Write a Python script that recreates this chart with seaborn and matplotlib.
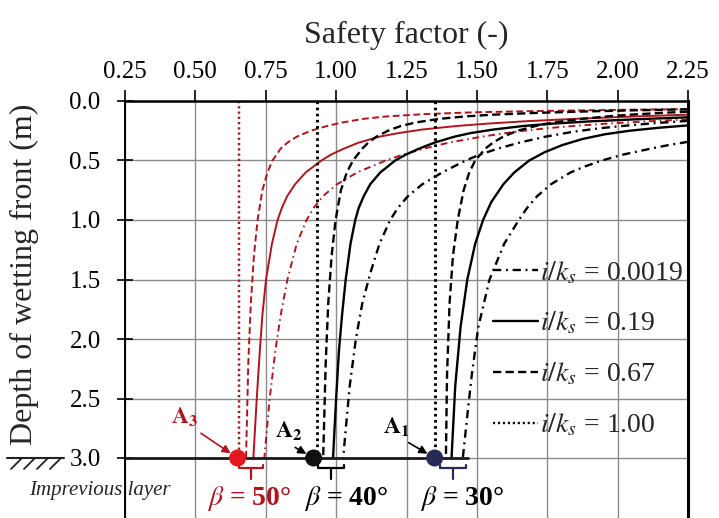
import pandas as pd
import matplotlib
matplotlib.use("Agg")
import matplotlib.pyplot as plt
import seaborn as sns
from matplotlib.lines import Line2D

# ---- data: safety factor vs depth of wetting front ----
slopes = ["50", "40", "30"]
ratios = ["0.0019", "0.19", "0.67", "1.00"]

# beta = 50 deg
d_50_0019 = [0.155, 0.17, 0.19, 0.21, 0.23, 0.26, 0.30, 0.35, 0.40, 0.45, 0.50, 0.60, 0.70, 0.80, 0.90, 1.0, 1.2, 1.5, 1.8, 2.1, 2.5, 3.0]
fs_50_0019 = [2.25, 2.112, 1.963, 1.843, 1.743, 1.631, 1.517, 1.40, 1.313, 1.238, 1.176, 1.075, 1.003, 0.953, 0.92, 0.895, 0.86, 0.827, 0.803, 0.784, 0.764, 0.745]
d_50_019 = [0.115, 0.13, 0.15, 0.17, 0.19, 0.21, 0.24, 0.27, 0.30, 0.35, 0.40, 0.45, 0.50, 0.60, 0.70, 0.80, 0.90, 1.0, 1.2, 1.5, 1.8, 2.1, 2.5, 3.0]
fs_50_019 = [2.25, 2.057, 1.847, 1.674, 1.538, 1.428, 1.305, 1.221, 1.153, 1.08, 1.028, 0.982, 0.948, 0.892, 0.854, 0.826, 0.807, 0.792, 0.772, 0.751, 0.738, 0.729, 0.718, 0.706]
d_50_067 = [0.068, 0.075, 0.085, 0.095, 0.11, 0.13, 0.15, 0.18, 0.21, 0.25, 0.30, 0.35, 0.40, 0.50, 0.60, 0.75, 1.0, 1.3, 1.7, 2.2, 3.0]
fs_50_067 = [2.25, 1.977, 1.694, 1.491, 1.315, 1.178, 1.097, 1.023, 0.968, 0.91, 0.86, 0.827, 0.803, 0.774, 0.756, 0.738, 0.721, 0.708, 0.697, 0.688, 0.68]
d_50_100 = [0.0, 3.0]
fs_50_100 = [0.655, 0.655]

# beta = 40 deg
d_40_0019 = [0.167, 0.185, 0.205, 0.23, 0.26, 0.30, 0.35, 0.40, 0.45, 0.50, 0.60, 0.70, 0.80, 0.90, 1.0, 1.2, 1.45, 1.7, 2.0, 2.4, 3.0]
fs_40_0019 = [2.25, 2.137, 2.039, 1.932, 1.838, 1.743, 1.651, 1.575, 1.511, 1.46, 1.377, 1.306, 1.255, 1.219, 1.192, 1.154, 1.121, 1.093, 1.07, 1.048, 1.025]
d_40_019 = [0.137, 0.15, 0.17, 0.19, 0.21, 0.24, 0.27, 0.30, 0.35, 0.40, 0.45, 0.50, 0.60, 0.70, 0.80, 0.90, 1.0, 1.2, 1.5, 1.8, 2.1, 2.5, 3.0]
fs_40_019 = [2.25, 2.103, 1.911, 1.77, 1.665, 1.558, 1.477, 1.42, 1.349, 1.295, 1.248, 1.21, 1.157, 1.121, 1.098, 1.08, 1.068, 1.051, 1.034, 1.021, 1.01, 1.0, 0.989]
d_40_067 = [0.07, 0.078, 0.088, 0.10, 0.115, 0.13, 0.15, 0.18, 0.21, 0.25, 0.30, 0.35, 0.40, 0.50, 0.60, 0.75, 1.0, 1.3, 1.7, 2.2, 3.0]
fs_40_067 = [2.25, 2.068, 1.883, 1.71, 1.557, 1.455, 1.367, 1.284, 1.23, 1.184, 1.143, 1.114, 1.093, 1.06, 1.038, 1.017, 0.998, 0.984, 0.972, 0.963, 0.954]
d_40_100 = [0.0, 3.0]
fs_40_100 = [0.932, 0.932]

# beta = 30 deg
d_30_0019 = [0.343, 0.37, 0.40, 0.45, 0.50, 0.55, 0.60, 0.70, 0.80, 0.90, 1.0, 1.2, 1.5, 1.9, 2.3, 2.6, 3.0]
fs_30_0019 = [2.25, 2.182, 2.118, 2.02, 1.944, 1.884, 1.833, 1.763, 1.714, 1.678, 1.649, 1.597, 1.545, 1.505, 1.482, 1.468, 1.45]
d_30_019 = [0.205, 0.225, 0.25, 0.28, 0.32, 0.37, 0.43, 0.50, 0.60, 0.70, 0.85, 1.0, 1.2, 1.5, 1.9, 2.4, 3.0]
fs_30_019 = [2.25, 2.146, 2.042, 1.954, 1.874, 1.804, 1.741, 1.686, 1.633, 1.594, 1.551, 1.522, 1.494, 1.466, 1.442, 1.423, 1.41]
d_30_067 = [0.09, 0.10, 0.115, 0.13, 0.15, 0.175, 0.20, 0.25, 0.30, 0.35, 0.40, 0.50, 0.60, 0.75, 1.0, 1.3, 1.7, 2.3, 3.0]
fs_30_067 = [2.25, 2.155, 2.045, 1.961, 1.873, 1.789, 1.725, 1.644, 1.593, 1.557, 1.53, 1.494, 1.473, 1.453, 1.432, 1.415, 1.403, 1.394, 1.39]
d_30_100 = [0.0, 3.0]
fs_30_100 = [1.35, 1.35]

# critical points A1..A3 on the impervious layer
point_names = ["A1", "A2", "A3"]
point_fs = [1.35, 0.92, 0.65]
point_depth = [3.0, 3.0, 3.0]

x_ticks = [0.25, 0.50, 0.75, 1.00, 1.25, 1.50, 1.75, 2.00, 2.25]
x_tick_labels = ["0.25", "0.50", "0.75", "1.00", "1.25", "1.50", "1.75", "2.00", "2.25"]
y_ticks = [0.0, 0.5, 1.0, 1.5, 2.0, 2.5, 3.0]
y_tick_labels = ["0.0", "0.5", "1.0", "1.5", "2.0", "2.5", "3.0"]

curves = {
    ("50", "0.0019"): (fs_50_0019, d_50_0019), ("50", "0.19"): (fs_50_019, d_50_019),
    ("50", "0.67"): (fs_50_067, d_50_067), ("50", "1.00"): (fs_50_100, d_50_100),
    ("40", "0.0019"): (fs_40_0019, d_40_0019), ("40", "0.19"): (fs_40_019, d_40_019),
    ("40", "0.67"): (fs_40_067, d_40_067), ("40", "1.00"): (fs_40_100, d_40_100),
    ("30", "0.0019"): (fs_30_0019, d_30_0019), ("30", "0.19"): (fs_30_019, d_30_019),
    ("30", "0.67"): (fs_30_067, d_30_067), ("30", "1.00"): (fs_30_100, d_30_100),
}
frames = []
for (slope, ratio), (fs, dep) in curves.items():
    frames.append(pd.DataFrame({"fs": fs, "depth": dep, "slope": slope, "ratio": ratio}))
df = pd.concat(frames, ignore_index=True)

# ---- styling ----
sns.set_theme(style="whitegrid")
plt.rcParams["font.family"] = ["Liberation Serif", "DejaVu Serif"]
plt.rcParams["mathtext.fontset"] = "stix"

RED = "#b0141c"
NAVY = "#272a55"
slope_color = {"50": RED, "40": "black", "30": "black"}
slope_lw = {"50": 1.4, "40": 1.7, "30": 1.7}
ratio_ls = {"0.0019": (0, (3.5, 2.0, 0.8, 2.0)), "0.19": "-",
            "0.67": (0, (3.5, 1.8)), "1.00": (0, (0.9, 1.2))}

fig = plt.figure(figsize=(7.19, 5.18), dpi=100)
ax = fig.add_axes([125 / 719, 0.5 / 518, 563 / 719, 416.5 / 518])

for (slope, ratio), sub in df.groupby(["slope", "ratio"], sort=False):
    lw = slope_lw[slope] + (0.4 if ratio == "1.00" else 0)
    sns.lineplot(data=sub, x="fs", y="depth", sort=False, estimator=None,
                 color=slope_color[slope], linewidth=lw,
                 linestyle=ratio_ls[ratio], ax=ax, legend=False)

# impervious layer at the base
ax.plot([0.25, 1.47], [3.0, 3.0], color="#1a1a1a", lw=2.0, zorder=4)

sns.scatterplot(x=point_fs, y=point_depth, hue=point_names,
                palette=[NAVY, "#111111", "#e3181c"], s=150, linewidth=0,
                legend=False, ax=ax, zorder=6, clip_on=False)

# brackets marking each slope group
for lo, hi, col in [(0.655, 0.742, RED), (0.935, 1.027, "black"), (1.37, 1.46, NAVY)]:
    mid = (lo + hi) / 2
    ax.plot([lo, lo, hi, hi], [3.055, 3.085, 3.085, 3.055], color=col, lw=1.6, clip_on=False)
    ax.plot([mid, mid], [3.085, 3.18], color=col, lw=1.6, clip_on=False)

ax.text(0.69, 3.34, r"$\beta$ = 50°", color=RED, fontsize=20, fontweight="bold",
        ha="center", va="center")
ax.text(1.035, 3.34, r"$\beta$ = 40°", color="black", fontsize=20, fontweight="bold",
        ha="center", va="center")
ax.text(1.447, 3.34, r"$\beta$ = 30°", color="black", fontsize=20, fontweight="bold",
        ha="center", va="center")

arrow = dict(arrowstyle="-|>", lw=1.2, shrinkA=1, shrinkB=6, mutation_scale=12)
ax.annotate(r"$\mathbf{A_3}$", xy=(0.65, 3.0), xytext=(0.46, 2.66), color=RED,
            fontsize=17, ha="center", va="center",
            arrowprops=dict(arrow, color=RED, relpos=(0.9, 0.0)))
ax.annotate(r"$\mathbf{A_2}$", xy=(0.92, 3.0), xytext=(0.83, 2.78), color="black",
            fontsize=17, ha="center", va="center",
            arrowprops=dict(arrow, color="black", relpos=(0.5, 0.0)))
ax.annotate(r"$\mathbf{A_1}$", xy=(1.35, 3.0), xytext=(1.215, 2.74), color="black",
            fontsize=17, ha="center", va="center",
            arrowprops=dict(arrow, color="black", relpos=(0.7, 0.0)))

ax.text(0.161, 3.27, "Imprevious layer", fontsize=15, fontstyle="italic",
        ha="center", va="center", clip_on=False)

# ground hatch next to the 3.0 label
ax.add_line(Line2D([7, 64], [60, 60], transform=None, color="#222222", lw=1.5, clip_on=False))
for x0 in [22, 35, 48, 61]:
    ax.add_line(Line2D([x0, x0 - 11], [60, 49], transform=None, color="#222222", lw=1.3,
                       clip_on=False))

# legend
handles = [Line2D([], [], color="black", lw=1.7, linestyle=ratio_ls[r]) for r in ratios]
labels = [rf"$i/k_s$ = {r}" for r in ratios]
ax.legend(handles, labels, loc="center left", bbox_to_anchor=(0.654, 0.405),
          frameon=False, fontsize=20, handlelength=1.6, handletextpad=0.1,
          labelspacing=0.87, borderpad=0, borderaxespad=0)

# axes
ax.set_xlim(0.25, 2.25)
ax.set_ylim(3.5, 0.0)
ax.xaxis.tick_top()
ax.xaxis.set_label_position("top")
ax.set_xticks(x_ticks, x_tick_labels)
ax.set_yticks(y_ticks, y_tick_labels)
ax.set_xlabel("Safety factor (-)", fontsize=23, labelpad=13)
ax.set_ylabel("Depth of wetting front (m)", fontsize=23)
ax.yaxis.set_label_coords(-0.153, 0.585)
ax.tick_params(axis="x", top=True, bottom=False, direction="out", length=8, width=1.2,
               pad=5, labelsize=18, colors="black")
ax.tick_params(axis="y", left=True, direction="inout", length=11, width=1.2,
               pad=12, labelsize=18, colors="black")
ax.grid(True, color="#8a8a8a", lw=1.0)
for side, lw in [("top", 1.8), ("left", 1.4), ("right", 2.2)]:
    ax.spines[side].set_color("black")
    ax.spines[side].set_linewidth(lw)
ax.spines["bottom"].set_visible(False)
ax.set_facecolor("white")

fig.savefig("out.png", dpi=100, facecolor="white")
